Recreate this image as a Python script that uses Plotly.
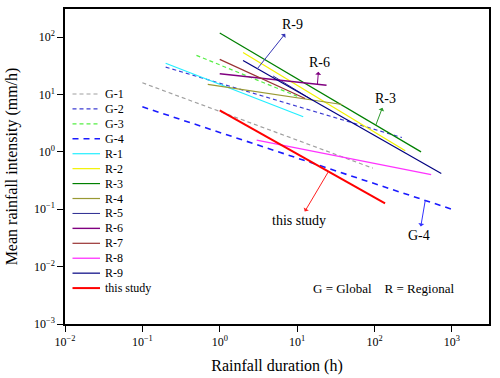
import math
import plotly.graph_objects as go

# ---------------- data (duration h, intensity mm/h) ----------------
NAMES = ["G-1", "G-2", "G-3", "G-4", "R-1", "R-2", "R-3", "R-4", "R-5",
         "R-6", "R-7", "R-8", "R-9", "this study"]
G1_D = [0.1, 95];    G1_I = [16.0, 0.52]
G2_D = [0.2, 226];   G2_I = [30.0, 1.78]
G3_D = [0.5, 10];    G3_I = [48.0, 9.3]
G4_D = [0.1, 1000];  G4_I = [6.1, 0.1]
R1_D = [0.2, 12];    R1_I = [35.0, 4.1]
R2_D = [2.0, 250];   R2_I = [54.0, 1.05]
R3_D = [1.0, 400];   R3_I = [118.0, 1.0]
R4_D = [0.7, 38];    R4_I = [15.0, 6.7]
R5_D = [4.9, 15.5];  R5_I = [21.0, 8.1]
R6_D = [1.0, 24];    R6_I = [23.0, 14.5]
R7_D = [1.0, 12.7];  R7_I = [41.0, 8.5]
R8_D = [3.0, 540];   R8_I = [1.6, 0.40]
R9_D = [2.0, 730];   R9_I = [39.0, 0.42]
STUDY_D = [1.0, 137]; STUDY_I = [5.3, 0.126]

X_TICKS = [-2, -1, 0, 1, 2, 3]
Y_TICKS = [-3, -2, -1, 0, 1, 2]

DUR = [G1_D, G2_D, G3_D, G4_D, R1_D, R2_D, R3_D, R4_D, R5_D, R6_D, R7_D, R8_D, R9_D, STUDY_D]
INT = [G1_I, G2_I, G3_I, G4_I, R1_I, R2_I, R3_I, R4_I, R5_I, R6_I, R7_I, R8_I, R9_I, STUDY_I]

# ---------------- styles ----------------
COLORS = ["#a0a0a0", "#3c3cd2", "#55ee44", "#1a1aff", "#22eeff", "#f2f200",
          "#008000", "#999933", "#2a2a90", "#800080", "#993333", "#ff33ff",
          "#000080", "#ff0000"]
WIDTHS = [1.2, 1.2, 1.2, 1.6, 1.2, 1.2, 1.2, 1.2, 1.0, 1.4, 1.2, 1.3, 1.2, 2.0]
DASHES = ["4px,3px", "4px,3px", "4px,3px", "6px,5px", "solid", "solid",
          "solid", "solid", "solid", "solid", "solid", "solid", "solid", "solid"]

FONT = "Liberation Serif"
W, H = 500, 378
ML, MR, MT, MB = 65, 11, 9, 54
PW, PH = W - ML - MR, H - MT - MB


def px_x(px):
    return (px - ML) / PW


def px_y(py):
    return (H - MB - py) / PH


def on_line(D, I, d):
    """log10 intensity on the series line at duration d (log-log interpolation)."""
    lx0, lx1 = math.log10(D[0]), math.log10(D[1])
    ly0, ly1 = math.log10(I[0]), math.log10(I[1])
    t = (math.log10(d) - lx0) / (lx1 - lx0)
    return ly0 + t * (ly1 - ly0)


def pow_label(p):
    return "10<sup>%s</sup>" % (str(p).replace("-", "\u2212"))


fig = go.Figure()
for name, d, i, c, w, dash in zip(NAMES, DUR, INT, COLORS, WIDTHS, DASHES):
    fig.add_trace(go.Scatter(x=d, y=i, mode="lines", name=name,
                             line=dict(color=c, width=w, dash=dash),
                             showlegend=False))

shapes = []
annotations = []

# custom legend (tight spacing as in the reference)
LEG_Y0, LEG_DY = 94.0, 14.93
for k, (name, c, w, dash) in enumerate(zip(NAMES, COLORS, WIDTHS, DASHES)):
    yy = px_y(LEG_Y0 + k * LEG_DY)
    shapes.append(dict(type="line", xref="paper", yref="paper",
                       x0=px_x(72.5), x1=px_x(100), y0=yy, y1=yy,
                       line=dict(color=c, width=w, dash=dash)))
    annotations.append(dict(xref="paper", yref="paper", x=px_x(102.5), y=yy,
                            xanchor="left", yanchor="middle", text=name,
                            showarrow=False, font=dict(family=FONT, size=12, color="black")))

# arrow labels: (series index, duration of anchor, label, dx, dy, arrow colour)
CALLOUTS = [
    (12, 3.06, "R-9", 35, -44, "#3535b5"),
    (9, 18.3, "R-6", 1.7, -21.5, "#800080"),
    (6, 104.0, "R-3", 10, -26.5, "#2e9a2e"),
    (13, 25.4, "this study", -29, 49, "#ff2020"),
    (3, 453.0, "G-4", -6, 35, "#3333ff"),
]
for idx, d, label, dx, dy, ac in CALLOUTS:
    annotations.append(dict(xref="x", yref="y", x=math.log10(d),
                            y=on_line(DUR[idx], INT[idx], d),
                            ax=dx, ay=dy, text=label, showarrow=True,
                            arrowside="start", arrowhead=2, arrowsize=1.1,
                            arrowwidth=1, arrowcolor=ac, startstandoff=0,
                            font=dict(family=FONT, size=14, color="black")))

annotations.append(dict(xref="paper", yref="paper", x=px_x(383.5), y=px_y(288),
                        xanchor="center", yanchor="middle",
                        text="G = Global\u00a0\u00a0\u00a0\u00a0R = Regional",
                        showarrow=False, font=dict(family=FONT, size=13, color="black")))

axis_common = dict(type="log", showgrid=False, zeroline=False, showline=True,
                   linecolor="black", linewidth=1.5, mirror=True,
                   ticks="outside", ticklen=6, tickwidth=1.2, tickcolor="black",
                   automargin=False,
                   tickfont=dict(family=FONT, size=12, color="black"))

fig.update_layout(
    width=W, height=H,
    margin=dict(l=ML, r=MR, t=MT, b=MB, autoexpand=False),
    paper_bgcolor="white", plot_bgcolor="white",
    shapes=shapes, annotations=annotations,
    xaxis=dict(range=[-2, 3.48], tickvals=[10 ** v for v in X_TICKS],
               ticktext=[pow_label(v) for v in X_TICKS],
               title=dict(text="Rainfall duration (h)", standoff=12,
                          font=dict(family=FONT, size=16, color="black")),
               **axis_common),
    yaxis=dict(range=[-3, 2.49], tickvals=[10 ** v for v in Y_TICKS],
               ticktext=[pow_label(v) for v in Y_TICKS],
               title=dict(text="Mean rainfall intensity (mm/h)", standoff=12,
                          font=dict(family=FONT, size=16, color="black")),
               **axis_common),
    showlegend=False,
)

fig.write_html("out.html", config={"displayModeBar": False},
               post_script="document.body.style.margin='0';document.body.style.overflow='hidden';")
